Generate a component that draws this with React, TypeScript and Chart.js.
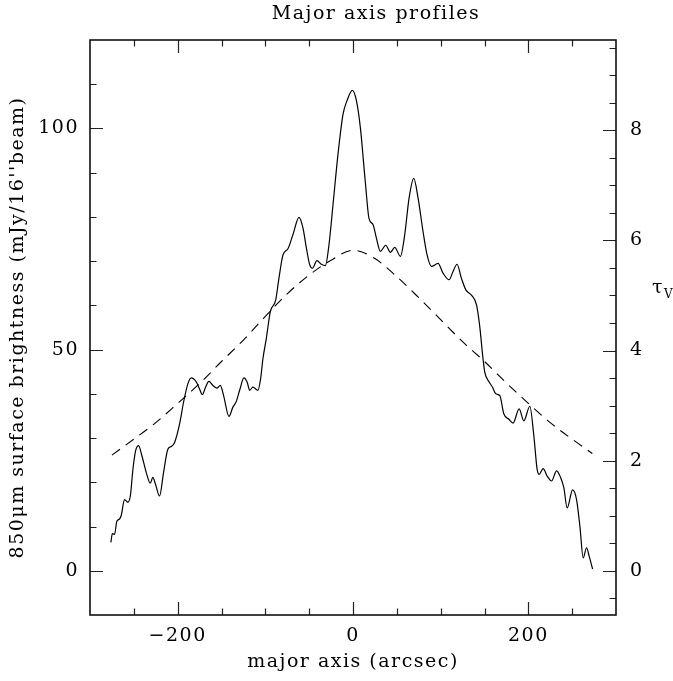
import { useEffect, useRef } from "react";
import { Chart, registerables } from "chart.js";

Chart.register(...registerables);

// 850um surface brightness profile along the major axis (mJy/16''beam)
const PROFILE_X = [
  -276.2, -274.5, -272, -269.4, -266.3, -264.4, -260.6, -256.8, -254, -251, -248, -244.6, -240.8, -235.8,
  -231.3, -228.3, -225.2, -220.7, -216.1, -211.2, -207.3, -203.5, -197.8, -193.3, -188.3, -184.5, -178.8,
  -175, -171.9, -168.2, -164.4, -159.8, -155.3, -151.4, -147.6, -141.5, -137, -133.1, -129.3, -124.4,
  -120.5, -117.9, -114.2, -108.4, -105.4, -102.7, -98.9, -94.3, -88.2, -84.5, -79.9, -74.2, -68.5, -61.6,
  -57.1, -53.2, -49.4, -46.3, -41.1, -36.1, -31.5, -27.4, -22.8, -17.1, -11.4, -6.8, -0.7, 3.9, 8.4, 14,
  18.3, 22.8, 26.7, 31.3, 37.3, 42.7, 47.6, 54.1, 59, 64, 69.3, 74.2, 79.9, 84.5, 89.5, 97, 102.7, 109.6,
  114.2, 118.7, 123.7, 128.7, 135.2, 140.9, 144.6, 148, 150.3, 155.3, 159.1, 162.9, 167.5, 172, 178.1,
  182.6, 189.5, 194.9, 201.7, 206.3, 210, 212.3, 216.9, 221.5, 226.5, 232.2, 236.8, 240.5, 244.3, 250.5,
  255, 258.8, 262.6, 266.4, 269.4, 273.3,
];
const PROFILE_Y = [
  6.4, 8.4, 8.2, 11.2, 11.7, 12.5, 16.1, 15.5, 16.9, 23, 27.1, 28.3, 26, 22.2,
  19.8, 21.1, 19.5, 16.9, 22.2, 27.5, 28.1, 29, 33.2, 38.1, 42.3, 43.6, 42.7,
  41.1, 39.8, 41.5, 42.8, 41.9, 41.3, 41.9, 39.6, 34.9, 37, 38.3, 40.8, 43.6,
  42.5, 40.8, 41.5, 40.8, 43.4, 48, 52.5, 58.6, 61.2, 66.1, 71.4, 72.8, 76, 79.9,
  77.5, 73, 69.2, 68.4, 70.1, 69.3, 69, 73.7, 82.8, 94.2, 103.2, 106.3, 108.6, 106.3, 100.2, 88,
  79.6, 78.3, 75.2, 72.2, 73.6, 72, 73.1, 71.1, 76, 84.3, 88.7, 84.3, 76.7, 71.4, 68.8, 69.5, 67.3, 65.8,
  67.7, 69.3, 66.1, 63.5, 62.3, 60.1, 55.2, 48.5, 44.9, 42.7, 41.5, 40, 39.6, 35.5, 34.2,
  33.4, 36.6, 33.9, 37.2, 30.5, 23, 21.8, 23.1, 21.4, 20.3, 22.6, 21.1, 18.8, 14.2, 18.3,
  16.1, 10.1, 2.9, 5.2, 3.3, 0.4,
];

// Model optical depth profile (tau_V)
const TAU_X = [-275, -250, -225, -200, -175, -150, -125, -100, -75, -50, -25, 0, 25, 50, 75, 100, 125, 150, 175, 200, 225, 250, 273];
const TAU_V = [2.1, 2.39, 2.69, 3.04, 3.4, 3.8, 4.19, 4.62, 5.03, 5.37, 5.64, 5.82, 5.67, 5.34, 4.96, 4.56, 4.16, 3.8, 3.41, 3.04, 2.69, 2.39, 2.13];

const X_TICKS = [-200, 0, 200];
const Y_TICKS = [0, 50, 100];
const TAU_TICKS = [0, 2, 4, 6, 8];
const X_MINOR_STEP = 50;
const Y_MINOR_STEP = 10;
const TAU_MINOR_STEP = 0.5;
const X_MIN = -300;
const X_MAX = 300;
const Y_MIN = -10;
const Y_MAX = 120;
const MJY_PER_TAU = 12.45;

const FONT = "'DejaVu Serif', serif";
const SPACING = "1.5px";

const spacingPlugin = {
  id: "letterSpacing",
  beforeDraw(chart: any) {
    try {
      (chart.ctx as any).letterSpacing = SPACING;
    } catch (e) {
      /* ignore */
    }
  },
};

const textPlugin = {
  id: "extraText",
  afterDraw(chart: any) {
    const { ctx } = chart;
    ctx.save();
    (ctx as any).letterSpacing = SPACING;
    ctx.fillStyle = "#000";
    ctx.font = `19px ${FONT}`;
    ctx.textAlign = "center";
    ctx.textBaseline = "middle";
    ctx.fillText("Major axis profiles", 376, 14);
    ctx.textAlign = "left";
    ctx.textBaseline = "alphabetic";
    ctx.font = `19px ${FONT}`;
    ctx.fillText("τ", 652, 293);
    ctx.font = `12px ${FONT}`;
    ctx.fillText("V", 664, 298);
    ctx.restore();
  },
};

const framePlugin = {
  id: "frameTicks",
  afterDraw(chart: any) {
    const { ctx, chartArea: a, scales } = chart;
    const major = 13;
    const minor = 6.5;
    ctx.save();
    ctx.strokeStyle = "#222";
    ctx.lineWidth = 1.2;
    ctx.beginPath();
    const xs = scales.x;
    for (let v = X_MIN + X_MINOR_STEP; v < X_MAX; v += X_MINOR_STEP) {
      const px = Math.round(xs.getPixelForValue(v)) + 0.5;
      const len = X_TICKS.includes(v) ? major : minor;
      ctx.moveTo(px, a.bottom);
      ctx.lineTo(px, a.bottom - len);
      ctx.moveTo(px, a.top);
      ctx.lineTo(px, a.top + len);
    }
    const ys = scales.y;
    for (let v = 0; v < Y_MAX; v += Y_MINOR_STEP) {
      const py = Math.round(ys.getPixelForValue(v)) + 0.5;
      const len = Y_TICKS.includes(v) ? major : minor;
      ctx.moveTo(a.left, py);
      ctx.lineTo(a.left + len, py);
    }
    const ts = scales.y1;
    for (let i = -1; i * TAU_MINOR_STEP < ts.max; i++) {
      const v = i * TAU_MINOR_STEP;
      const py = Math.round(ts.getPixelForValue(v)) + 0.5;
      const len = TAU_TICKS.includes(v) ? major : minor;
      ctx.moveTo(a.right, py);
      ctx.lineTo(a.right - len, py);
    }
    ctx.stroke();
    ctx.lineWidth = 1.6;
    ctx.strokeStyle = "#111";
    ctx.strokeRect(a.left, a.top, a.right - a.left, a.bottom - a.top);
    ctx.restore();
  },
};

export default function App() {
  const ref = useRef<HTMLCanvasElement | null>(null);

  useEffect(() => {
    const canvas = ref.current;
    if (!canvas) return;
    const tickFont = { family: FONT, size: 19 };
    const chart = new Chart(canvas, {
      type: "line",
      data: {
        datasets: [
          {
            label: "850um",
            data: PROFILE_X.map((x, i) => ({ x, y: PROFILE_Y[i] })),
            borderColor: "#000",
            borderWidth: 1.2,
            pointRadius: 0,
            cubicInterpolationMode: "monotone",
            fill: false,
            yAxisID: "y",
          },
          {
            label: "tau",
            data: TAU_X.map((x, i) => ({ x, y: TAU_V[i] })),
            borderColor: "#000",
            borderWidth: 1.1,
            borderDash: [10, 7],
            pointRadius: 0,
            cubicInterpolationMode: "monotone",
            fill: false,
            yAxisID: "y1",
          },
        ],
      },
      options: {
        animation: false,
        responsive: false,
        devicePixelRatio: 1,
        layout: { padding: { top: 40, left: 0, right: 0, bottom: 0 } },
        plugins: { legend: { display: false }, tooltip: { enabled: false }, title: { display: false } },
        scales: {
          x: {
            type: "linear",
            min: X_MIN,
            max: X_MAX,
            grid: { display: false, drawTicks: false },
            border: { display: false },
            afterBuildTicks: (s: any) => {
              s.ticks = X_TICKS.map((value) => ({ value }));
            },
            afterFit: (s: any) => {
              s.height = 66;
            },
            ticks: {
              font: tickFont,
              color: "#000",
              padding: 10,
              maxRotation: 0,
              callback: (v: any) => String(v).replace("-", "\u2212"),
            },
            title: {
              display: true,
              text: "major axis (arcsec)",
              font: tickFont,
              color: "#000",
              padding: { top: 0, bottom: 8 },
            },
          },
          y: {
            type: "linear",
            position: "left",
            min: Y_MIN,
            max: Y_MAX,
            grid: { display: false, drawTicks: false },
            border: { display: false },
            afterBuildTicks: (s: any) => {
              s.ticks = Y_TICKS.map((value) => ({ value }));
            },
            afterFit: (s: any) => {
              s.width = 90;
            },
            ticks: { font: tickFont, color: "#000", padding: 11 },
            title: {
              display: true,
              text: "850\u03bcm surface brightness (mJy/16''beam)",
              font: tickFont,
              color: "#000",
              padding: { top: 7, bottom: 0 },
            },
          },
          y1: {
            type: "linear",
            position: "right",
            min: Y_MIN / MJY_PER_TAU,
            max: Y_MAX / MJY_PER_TAU,
            grid: { display: false, drawTicks: false },
            border: { display: false },
            afterBuildTicks: (s: any) => {
              s.ticks = TAU_TICKS.map((value) => ({ value }));
            },
            afterFit: (s: any) => {
              s.width = 57;
            },
            ticks: { font: tickFont, color: "#000", padding: 14 },
          },
        },
      },
      plugins: [spacingPlugin, framePlugin, textPlugin],
    });
    return () => chart.destroy();
  }, []);

  return (
    <div style={{ position: "absolute", left: 0, top: 0, width: 673, height: 681, background: "#fff" }}>
      <canvas ref={ref} width={673} height={681} style={{ display: "block" }} />
    </div>
  );
}
